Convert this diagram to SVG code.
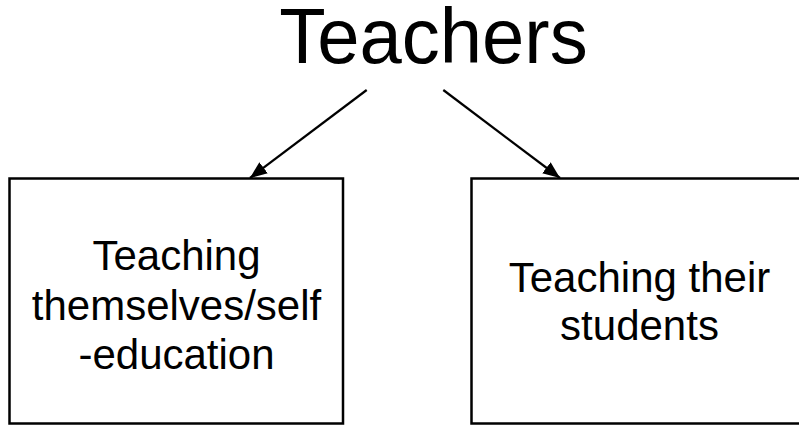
<svg xmlns="http://www.w3.org/2000/svg" width="799" height="425" viewBox="0 0 799 425">
  <style>
    .box { fill: #ffffff; stroke: #000000; stroke-width: 2.5; }
    .lbl { font-family: "Liberation Sans", Arial, sans-serif; font-size: 42px; fill: #000000; text-anchor: middle; }
    .title { font-family: "Liberation Sans", Arial, sans-serif; font-size: 76px; fill: #000000; text-anchor: middle; }
    .conn { stroke: #000000; stroke-width: 2.2; fill: none; marker-end: url(#arrow); }
  </style>
  <defs>
    <marker id="arrow" markerUnits="userSpaceOnUse" markerWidth="18" markerHeight="16" refX="17" refY="8" orient="auto">
      <path d="M0,1 L17,8 L0,15 Z" fill="#000000"/>
    </marker>
  </defs>
  <rect width="799" height="425" fill="#ffffff"/>
  <g id="node-teachers">
    <text class="title" transform="translate(433.5,63.3) scale(1,1.03)">Teachers</text>
  </g>
  <g id="node-self">
    <rect class="box" x="9.5" y="178.5" width="333.5" height="245"/>
    <text class="lbl" x="176.5" y="270">Teaching</text>
    <text class="lbl" x="176.5" y="319.5">themselves/self</text>
    <text class="lbl" x="176.5" y="369">-education</text>
  </g>
  <g id="node-students">
    <rect class="box" x="471.5" y="178.5" width="340" height="245"/>
    <text class="lbl" x="639.5" y="291.5">Teaching their</text>
    <text class="lbl" x="639.5" y="340">students</text>
  </g>
  <g id="connectors">
    <line class="conn" x1="366.7" y1="90" x2="250" y2="178"/>
    <line class="conn" x1="443.3" y1="90" x2="560" y2="178"/>
  </g>
</svg>
